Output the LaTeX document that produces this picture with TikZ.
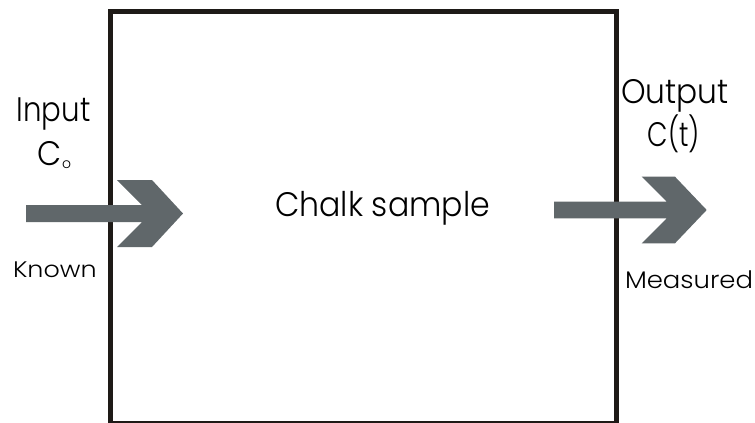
\documentclass[tikz,border=0pt]{standalone}
\usepackage{fontspec}
\usepackage{graphicx}
\setmainfont{Poppins}[UprightFont={* Light}]
\definecolor{arrowgray}{RGB}{96,103,106}
\definecolor{boxline}{RGB}{30,26,23}
\tikzset{
  lbl/.style={inner sep=0pt, outer sep=0pt, text=black},
  blockarrow/.style={fill=arrowgray, draw=none},
}
\begin{document}
\begin{tikzpicture}[x=1pt,y=-1pt]
\useasboundingbox (0,0) rectangle (755,423);
% sample box
\node[draw=boxline, line width=5pt, minimum width=506pt, minimum height=412pt, inner sep=0pt, anchor=north west] (box) at (107.5,8.5) {};
% arrows
\coordinate (inA) at (26,213.5);
\coordinate (outA) at (554,210);
\fill[blockarrow] (inA) ++(0,-8.5) -- (142,205) -- (117,180) -- (152,180) -- (183,213.5) -- (152,247) -- (117,247) -- (142,222) -- (26,222) -- cycle;
\fill[blockarrow] (outA) ++(0,-8.3) -- (666.7,201.7) -- (641.7,176.7) -- (675,176.7) -- (706.7,210) -- (675,243.3) -- (641.7,243.3) -- (666.7,218.3) -- (554,218.3) -- cycle;
% labels
\node[lbl, anchor=base, font=\fontsize{34}{34}\selectfont] (input) at (53.5,121.7) {\scalebox{0.86}[1]{Input}};
\node[lbl, anchor=base west, font=\fontsize{34}{34}\selectfont] (cin) at (37,165) {\scalebox{0.92}[1]{C}\kern1pt\raisebox{-3pt}{\fontsize{14}{14}\selectfont o}};
\node[lbl, anchor=base west, font=\fontsize{22.5}{22.5}\selectfont] (known) at (13,277) {\scalebox{1.13}[1]{Known}};
\node[lbl, anchor=base, font=\fontsize{34}{34}\selectfont] (output) at (675,103) {\scalebox{0.92}[1]{Output}};
\node[lbl, anchor=base, font=\fontsize{34}{34}\selectfont] (cout) at (674,146.7) {\scalebox{0.78}[1]{C(t)}};
\node[lbl, anchor=base, font=\fontsize{34}{34}\selectfont] (chalk) at (382.5,216) {\scalebox{0.93}[1]{Chalk sample}};
\node[lbl, anchor=base west, font=\fontsize{24}{24}\selectfont] (meas) at (625,288) {\scalebox{1.08}[1]{Measured}};
\end{tikzpicture}
\end{document}
